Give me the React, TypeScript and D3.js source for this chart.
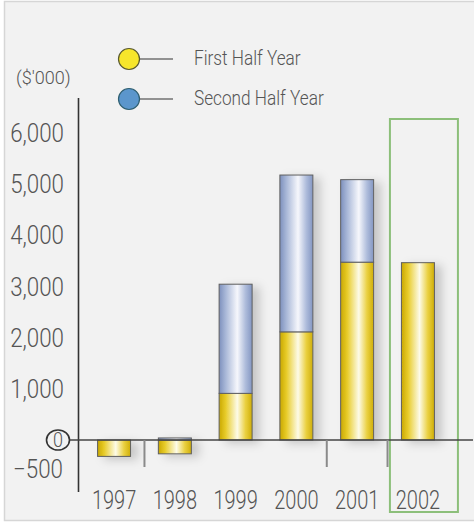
import React from "react";
import * as d3 from "d3";

const years = ["1997", "1998", "1999", "2000", "2001", "2002"];
const firstHalf = [-320, -270, 910, 2110, 3470, 3460];
const secondHalf = [0, 40, 2130, 3060, 1610, 0];
const yTicks = [1000, 2000, 3000, 4000, 5000, 6000];
const negTick = -500;
const seriesNames = ["First Half Year", "Second Half Year"];
const unitLabel = "($'000)";
const separatorAfter = ["1997", "2000", "2001"];
const highlightYear = "2002";

const W = 474;
const H = 524;
const FONT = "Roboto, 'Liberation Sans', sans-serif";
const TXT = "#555555";

function NarrowText(props: {
  x: number;
  y: number;
  size: number;
  sx: number;
  anchor?: "start" | "middle" | "end";
  children: React.ReactNode;
}) {
  return (
    <text
      transform={`translate(${props.x},${props.y}) scale(${props.sx},1)`}
      dy="0.36em"
      textAnchor={props.anchor || "start"}
      fontSize={props.size}
      fontWeight={300}
      fill={TXT}
    >
      {props.children}
    </text>
  );
}

export default function App() {
  const y = d3.scaleLinear().domain([0, 6000]).range([440, 132.5]);
  const x = d3
    .scaleBand<string>()
    .domain(years)
    .range([83.7, 448.3])
    .paddingInner(0.457)
    .paddingOuter(0.2285);
  const bw = x.bandwidth();
  const step = x.step();

  const bars: { key: string; x: number; y0: number; y1: number; fill: string }[] = [];
  years.forEach((yr, i) => {
    const f = firstHalf[i];
    const s = secondHalf[i];
    if (f !== 0) {
      bars.push({ key: yr + "f", x: x(yr)!, y0: Math.min(y(0), y(f)), y1: Math.max(y(0), y(f)), fill: "url(#gYellow)" });
    }
    if (s !== 0) {
      const base = f > 0 ? f : 0;
      bars.push({ key: yr + "s", x: x(yr)!, y0: y(base + s), y1: y(base), fill: "url(#gBlue)" });
    }
  });

  const hx = x(highlightYear)!;

  return (
    <svg width={W} height={H} style={{ position: "absolute", left: 0, top: 0 }} fontFamily={FONT}>
      <defs>
        <linearGradient id="gYellow" x1="0" x2="1" y1="0" y2="0">
          <stop offset="0" stopColor="#c9a800" />
          <stop offset="0.2" stopColor="#e8cc2a" />
          <stop offset="0.55" stopColor="#fdfbe8" />
          <stop offset="0.8" stopColor="#ead040" />
          <stop offset="1" stopColor="#cfae08" />
        </linearGradient>
        <linearGradient id="gBlue" x1="0" x2="1" y1="0" y2="0">
          <stop offset="0" stopColor="#7d90bd" />
          <stop offset="0.2" stopColor="#a9b8d8" />
          <stop offset="0.55" stopColor="#f6f7fc" />
          <stop offset="0.8" stopColor="#aebcdb" />
          <stop offset="1" stopColor="#8396c2" />
        </linearGradient>
        <filter id="shadow" x="-30%" y="-10%" width="180%" height="130%">
          <feDropShadow dx="7" dy="3" stdDeviation="5" floodColor="#000" floodOpacity="0.18" />
        </filter>
      </defs>
      <rect x={0} y={0} width={W} height={H} fill="#ffffff" />
      <rect x={4.5} y={1.5} width={W} height={519} fill="#f2f2f2" stroke="#d6d6d6" strokeWidth={1.5} />

      {/* legend */}
      {seriesNames.map((name, i) => (
        <g key={name}>
          <line x1={139} x2={173} y1={59 + i * 40} y2={59 + i * 40} stroke="#333" strokeWidth={1} />
          <circle cx={129} cy={59 + i * 40} r={10.5} fill={i === 0 ? "#f7e62b" : "#5b96cc"} stroke={i === 0 ? "#5a5a30" : "#2f5f70"} strokeWidth={1.2} />
          <NarrowText x={194} y={57 + i * 40} size={21} sx={0.82}>{name}</NarrowText>
        </g>
      ))}

      <NarrowText x={16} y={77} size={19} sx={0.95}>{unitLabel}</NarrowText>

      {/* highlight box */}
      <rect x={hx - 11.5} y={119} width={bw + 35} height={393} fill="none" stroke="#8cbf7a" strokeWidth={2} />

      {/* y labels */}
      {yTicks.map((t) => (
        <NarrowText key={t} x={64} y={y(t)} size={26} sx={0.86} anchor="end">
          {d3.format(",")(t)}
        </NarrowText>
      ))}
      <NarrowText x={63} y={y(negTick) + 3} size={26} sx={0.86} anchor="end">
        {d3.format(",")(negTick)}
      </NarrowText>
      <ellipse cx={58} cy={y(0)} rx={11.5} ry={10} fill="none" stroke="#333" strokeWidth={1.6} />
      <NarrowText x={58} y={y(0)} size={20} sx={0.9} anchor="middle">0</NarrowText>

      {/* bars */}
      <g filter="url(#shadow)">
        {bars.map((b) => (
          <rect key={b.key} x={b.x} y={b.y0} width={bw} height={Math.max(0, b.y1 - b.y0)} fill={b.fill} stroke="#5f5f5f" strokeWidth={1} />
        ))}
      </g>

      {/* axes */}
      <line x1={78.5} x2={78.5} y1={98} y2={492} stroke="#333" strokeWidth={1.6} />
      <line x1={70} x2={473} y1={y(0)} y2={y(0)} stroke="#444" strokeWidth={1.6} />
      {separatorAfter.map((yr) => {
        const sx = x(yr)! + bw / 2 + step / 2;
        return <line key={yr} x1={sx} x2={sx} y1={y(0)} y2={467} stroke="#8a8a8a" strokeWidth={2} />;
      })}

      {/* x labels */}
      {years.map((yr) => (
        <NarrowText key={yr} x={x(yr)! + bw / 2} y={500} size={25} sx={0.8} anchor="middle">
          {yr}
        </NarrowText>
      ))}
    </svg>
  );
}
